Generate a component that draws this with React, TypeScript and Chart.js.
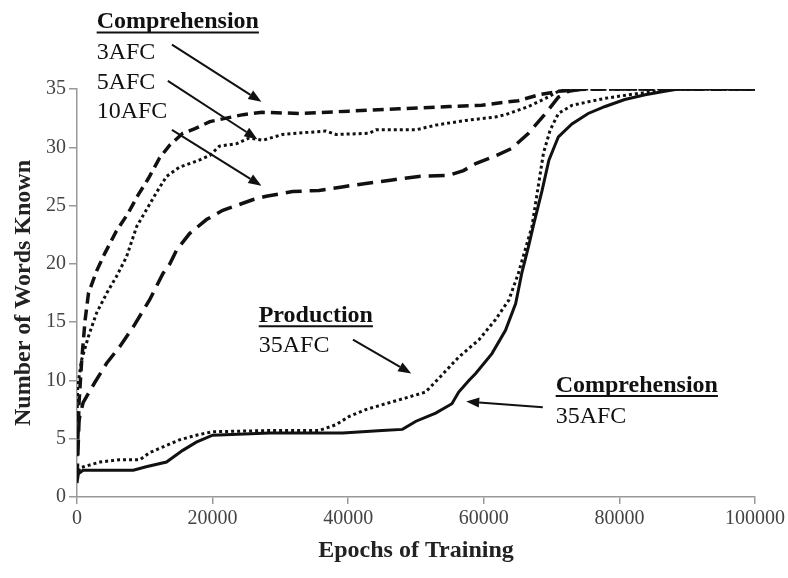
import React, { useEffect, useRef } from "react";
import { Chart, registerables } from "chart.js";

Chart.register(...registerables);

// ---------- data ----------
const xTickValues = [0, 20000, 40000, 60000, 80000, 100000];
const yTickValues = [0, 5, 10, 15, 20, 25, 30, 35];

const afc3X = [0, 200, 300, 700, 1200, 1700, 2900, 4100, 5800, 7500, 9000, 10500, 12200, 13700, 15600, 17400, 19600, 22000, 24500, 27300, 32800, 40100, 47500, 54900, 59700, 62200, 65100, 68100, 71000, 74000, 77000, 100000];
const afc3Y = [3.5, 6.0, 8.1, 11.8, 15.2, 17.5, 19.4, 20.9, 22.8, 24.3, 25.9, 27.3, 29.1, 30.2, 31.2, 31.6, 32.2, 32.5, 32.8, 33.0, 32.9, 33.1, 33.3, 33.5, 33.6, 33.8, 34.0, 34.5, 34.8, 34.95, 35, 35];

const afc5X = [0, 100, 700, 1700, 2900, 4400, 5800, 7300, 8800, 10200, 11700, 13200, 15100, 17600, 19600, 21000, 23500, 25400, 27400, 30300, 36700, 38200, 43100, 44100, 50000, 52900, 57300, 61700, 63200, 66600, 69100, 71000, 73000, 76000, 100000];
const afc5Y = [6.6, 9.5, 11.8, 13.8, 15.8, 17.5, 18.9, 20.6, 23.2, 24.6, 26.1, 27.5, 28.3, 28.8, 29.3, 30.1, 30.3, 30.8, 30.6, 31.1, 31.4, 31.1, 31.2, 31.5, 31.5, 31.9, 32.3, 32.6, 32.8, 33.5, 34.2, 34.8, 35, 35, 35];

const afc10X = [0, 300, 400, 900, 2600, 4400, 6300, 8300, 10700, 12700, 13700, 14700, 16600, 19100, 21500, 23500, 25900, 27900, 31800, 35700, 39100, 42600, 46500, 50400, 54900, 57000, 58800, 61900, 64100, 66600, 69100, 71000, 72500, 74500, 77000, 100000];
const afc10Y = [1.5, 6.5, 6.9, 8.1, 9.8, 11.5, 12.9, 14.6, 16.9, 19.2, 20.0, 21.2, 22.6, 23.8, 24.6, 25.0, 25.5, 25.8, 26.2, 26.3, 26.6, 26.9, 27.2, 27.5, 27.6, 28.0, 28.6, 29.3, 29.9, 31.2, 32.9, 34.3, 34.8, 35, 35, 35];

const prodX = [0, 400, 3400, 6300, 9300, 10700, 12700, 15100, 17600, 20000, 28400, 35700, 38200, 40100, 42600, 45500, 48500, 51400, 53400, 56300, 59300, 61700, 63700, 65100, 66100, 67100, 67800, 68800, 69800, 71000, 73000, 75400, 77900, 81300, 85200, 87600, 100000];
const prodY = [1.7, 2.5, 3.0, 3.2, 3.2, 3.8, 4.3, 4.9, 5.3, 5.6, 5.7, 5.7, 6.2, 6.9, 7.5, 8.0, 8.5, 9.0, 10.2, 12.0, 13.5, 15.2, 16.9, 19.2, 21.2, 23.2, 25.8, 29.5, 31.5, 32.9, 33.6, 33.9, 34.2, 34.5, 34.8, 35, 35];

const comp35X = [0, 200, 900, 8300, 10200, 13200, 15600, 17600, 20000, 28400, 39200, 45000, 48000, 50000, 52900, 55300, 56300, 57800, 58800, 61200, 63200, 64700, 65600, 66600, 67400, 68600, 69600, 71000, 73000, 75400, 77900, 80800, 83800, 86700, 88700, 100000];
const comp35Y = [1.2, 2.0, 2.3, 2.3, 2.6, 3.0, 4.0, 4.7, 5.3, 5.5, 5.5, 5.7, 5.8, 6.5, 7.2, 8.0, 9.0, 10.0, 10.6, 12.3, 14.3, 16.6, 19.2, 21.5, 23.5, 26.3, 28.9, 30.9, 32.0, 32.9, 33.5, 34.1, 34.5, 34.8, 35, 35];

// annotation texts (data coordinates: x = left edge, y = baseline)
const noteTexts = ["Comprehension", "3AFC", "5AFC", "10AFC", "Production", "35AFC", "Comprehension", "35AFC"];
const noteBold = [true, false, false, false, true, false, true, false];
const noteX = [2900, 2900, 2900, 2900, 26800, 26800, 70600, 70600];
const noteY = [40.2, 37.6, 35.0, 32.5, 15.0, 12.4, 9.0, 6.35];

// arrows (data coordinates: from -> to)
const arrowFromX = [14000, 13400, 14000, 40700, 68700];
const arrowFromY = [38.8, 35.7, 31.5, 13.5, 7.7];
const arrowToX = [27200, 26600, 27200, 49300, 57400];
const arrowToY = [33.9, 30.7, 26.7, 10.6, 8.2];

const FONT = "'Liberation Serif', 'Times New Roman', serif";

const toPoints = (xs: number[], ys: number[]) => xs.map((x, i) => ({ x, y: ys[i] }));

const annotationPlugin = {
  id: "notes",
  afterDraw(chart: any) {
    const ctx = chart.ctx as CanvasRenderingContext2D;
    const xs = chart.scales.x;
    const ys = chart.scales.y;
    ctx.save();
    ctx.fillStyle = "#111";
    ctx.strokeStyle = "#111";
    ctx.textBaseline = "alphabetic";
    ctx.textAlign = "left";
    noteTexts.forEach((t, i) => {
      const px = xs.getPixelForValue(noteX[i]);
      const py = ys.getPixelForValue(noteY[i]);
      ctx.font = `${noteBold[i] ? "bold " : ""}24px ${FONT}`;
      ctx.fillText(t, px, py);
      if (noteBold[i]) {
        const w = ctx.measureText(t).width;
        ctx.lineWidth = 2;
        ctx.beginPath();
        ctx.moveTo(px, py + 4);
        ctx.lineTo(px + w, py + 4);
        ctx.stroke();
      }
    });
    arrowFromX.forEach((_, i) => {
      const x1 = xs.getPixelForValue(arrowFromX[i]);
      const y1 = ys.getPixelForValue(arrowFromY[i]);
      const x2 = xs.getPixelForValue(arrowToX[i]);
      const y2 = ys.getPixelForValue(arrowToY[i]);
      const ang = Math.atan2(y2 - y1, x2 - x1);
      const hl = 13;
      const hw = 5;
      const bx = x2 - hl * Math.cos(ang);
      const by = y2 - hl * Math.sin(ang);
      ctx.lineWidth = 2;
      ctx.beginPath();
      ctx.moveTo(x1, y1);
      ctx.lineTo(bx, by);
      ctx.stroke();
      ctx.beginPath();
      ctx.moveTo(x2, y2);
      ctx.lineTo(bx + hw * Math.sin(ang), by - hw * Math.cos(ang));
      ctx.lineTo(bx - hw * Math.sin(ang), by + hw * Math.cos(ang));
      ctx.closePath();
      ctx.fill();
    });
    ctx.restore();
  },
};

export default function App() {
  const ref = useRef<HTMLCanvasElement | null>(null);
  useEffect(() => {
    if (!ref.current) return;
    const common = { pointRadius: 0, borderColor: "#111", tension: 0, fill: false };
    const chart = new Chart(ref.current, {
      type: "line",
      data: {
        datasets: [
          { ...common, label: "Comprehension 3AFC", data: toPoints(afc3X, afc3Y), borderWidth: 3.5, borderDash: [11, 6] },
          { ...common, label: "Comprehension 5AFC", data: toPoints(afc5X, afc5Y), borderWidth: 3, borderDash: [3, 3] },
          { ...common, label: "Comprehension 10AFC", data: toPoints(afc10X, afc10Y), borderWidth: 3.5, borderDash: [16, 8] },
          { ...common, label: "Production 35AFC", data: toPoints(prodX, prodY), borderWidth: 3, borderDash: [3, 3] },
          { ...common, label: "Comprehension 35AFC", data: toPoints(comp35X, comp35Y), borderWidth: 3 },
        ],
      },
      options: {
        animation: false,
        responsive: false,
        maintainAspectRatio: false,
        layout: { padding: { top: 89, right: 32, left: 0, bottom: 0 } },
        plugins: { legend: { display: false }, tooltip: { enabled: false } },
        scales: {
          x: {
            type: "linear",
            min: 0,
            max: 100000,
            afterFit: (s: any) => { s.height = 81; },
            afterBuildTicks: (s: any) => { s.ticks = xTickValues.map((v) => ({ value: v })); },
            border: { color: "#999", width: 1.5 },
            grid: { drawOnChartArea: false, drawTicks: true, tickLength: 7, color: "#999", lineWidth: 1.5 },
            ticks: { color: "#444", font: { family: FONT, size: 20 }, padding: 3, maxRotation: 0, callback: (v: any) => String(v) },
            title: { display: true, text: "Epochs of Training", color: "#222", font: { family: FONT, size: 24, weight: "bold" }, padding: { top: 0, bottom: 13 } },
          },
          y: {
            type: "linear",
            min: 0,
            max: 35,
            afterFit: (s: any) => { s.width = 77; },
            afterBuildTicks: (s: any) => { s.ticks = yTickValues.map((v) => ({ value: v })); },
            border: { color: "#999", width: 1.5 },
            grid: { drawOnChartArea: false, drawTicks: true, tickLength: 8, color: "#999", lineWidth: 1.5 },
            ticks: { color: "#444", font: { family: FONT, size: 20 }, padding: 3 },
            title: { display: true, text: "Number of Words Known", color: "#222", font: { family: FONT, size: 24, weight: "bold" }, padding: { top: 9, bottom: 0 } },
          },
        },
      },
      plugins: [annotationPlugin],
    } as any);
    return () => chart.destroy();
  }, []);
  return (
    <div style={{ position: "fixed", left: 0, top: 0, width: 788, height: 578, background: "#fff" }}>
      <canvas ref={ref} width={788} height={578} style={{ width: 788, height: 578, display: "block" }} />
    </div>
  );
}
